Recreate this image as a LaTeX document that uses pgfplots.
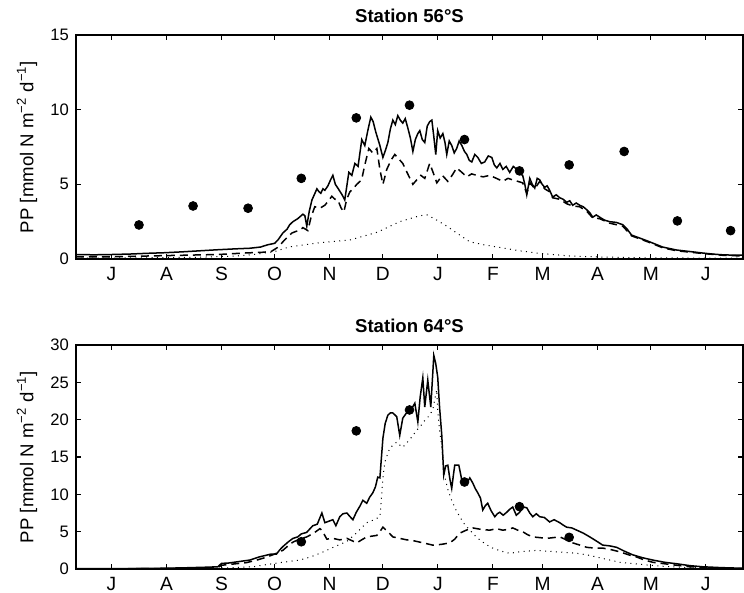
\documentclass[border=0pt]{standalone}
\usepackage{fontspec}
\setmainfont{Liberation Sans}
\usepackage{pgfplots}
\usepackage{pgfplotstable}
\pgfplotsset{compat=1.18}

% ---------- Station 56S ----------
\pgfplotstableread{
d v
0 0.30
10 0.28
20 0.30
30 0.33
40 0.38
50 0.42
60 0.48
70 0.55
80 0.62
90 0.68
98 0.72
104 0.80
108 0.95
112 1.05
114 1.30
116.6 1.74
119 2.0
120.5 2.3
122.3 2.5
125 2.7
127.9 3.0
129 2.9
130.1 2.2
131.5 3.2
133 3.95
135.8 4.7
137 4.5
138 4.4
139.2 4.7
140.3 4.6
142 4.9
143.5 5.3
144.8 5.6
146.2 5.0
147.6 4.75
150 4.3
151.5 3.95
153.8 5.8
155.5 5.6
157.2 6.4
159 6.2
161.1 8.0
162.8 7.6
164.5 8.6
166.2 9.5
167.5 9.2
169 8.5
171.3 7.6
173 6.8
174.5 7.3
175.8 7.8
177.2 8.7
178.6 9.3
180 9.0
181.4 9.6
182.8 9.3
184.2 9.1
185.6 9.4
187 8.8
188.5 8.1
189.9 7.2
191.3 8.0
192.7 8.4
193.8 8.6
195.2 8.0
196.6 7.8
198 8.9
199.4 9.2
200.6 9.3
201.7 8.2
202.8 7.0
203.9 8.6
205.3 8.1
206.8 8.4
208 7.8
209 7.0
210.4 7.9
211.8 7.6
213.2 7.1
214.6 7.4
216 7.9
217.5 7.6
219 7.2
220.3 7.0
221.7 6.6
223.1 6.5
224.8 7.0
226.5 6.8
228.5 6.4
230.4 6.5
232.4 6.9
234.4 6.8
235.8 6.3
237.2 6.1
239 6.4
240.6 6.0
242.5 6.2
244.5 5.8
246.5 6.2
248.5 6.0
250.2 5.7
251.8 5.6
253 5.0
254.1 4.3
255.8 5.4
257.2 5.0
258.6 4.75
260 5.4
261.4 5.3
262.8 5.0
264.2 4.8
265.6 4.9
267 4.6
268.7 4.15
270.7 4.3
272.7 4.1
274.6 4.0
276.6 3.8
278.3 3.9
280 3.6
282 3.75
283.9 3.6
285.9 3.5
287.9 3.3
289.6 3.1
291.3 2.8
293.3 2.95
295.2 2.8
298 2.6
300.8 2.5
304.5 2.45
308.2 2.3
310.7 2.0
313.2 1.6
317.8 1.4
322.3 1.2
326.5 1.0
330.7 0.8
334.6 0.7
338.6 0.6
346 0.5
353.2 0.4
358.9 0.33
364.5 0.28
370 0.26
376 0.25
}\solidA

\pgfplotstableread{
d v
0 0.15
20 0.15
40 0.20
60 0.25
80 0.30
95 0.40
105 0.45
110 0.50
114 0.80
117 1.2
119.5 1.5
121.7 1.74
124 1.85
126 1.9
127.9 2.1
130.7 1.9
132.5 2.8
134.6 3.5
137.5 3.4
140.3 3.6
142.3 3.9
144.2 4.2
146 4.0
147.6 3.95
149.5 3.4
151 3.15
152.6 4.0
154.4 4.5
156.2 4.7
158.3 5.0
161 5.3
162.8 6.3
165.1 7.4
167.3 7.1
169.6 7.4
171.3 6.0
173 5.0
175.2 6.0
177.5 6.6
179.7 7.0
182 6.7
184.2 6.4
187 5.7
189.9 5.0
192.1 5.3
194.4 5.6
196.6 5.4
199.4 6.4
201.3 5.8
203.4 5.1
206.5 5.6
209.6 5.2
212 5.6
214.6 6.1
217.5 5.8
220.3 5.5
223 5.7
225.9 5.6
229.5 5.5
233.2 5.6
237 5.4
240.6 5.2
243.5 5.4
246.2 5.3
249 5.2
251.8 5.1
254.1 4.4
256 5.1
258.6 4.7
261.4 5.2
264.2 4.7
267 4.5
268.7 4.1
272.7 4.0
276.6 3.7
280 3.55
283.9 3.5
287.9 3.2
291.3 2.75
295.2 2.7
300.8 2.4
308.2 2.2
313.2 1.55
322.3 1.15
330.7 0.75
338.6 0.55
353.2 0.37
364.5 0.25
376 0.20
}\dashA

\pgfplotstableread{
d v
0 0.05
40 0.08
70 0.12
90 0.20
100 0.30
112 0.50
120 0.80
135.8 1.07
154.4 1.27
170 1.8
182.5 2.5
193.8 2.9
198 2.95
203.4 2.6
209 2.2
214.6 1.74
222 1.15
230 0.95
240.6 0.74
250 0.55
259.7 0.40
278.3 0.20
296.9 0.13
320 0.08
376 0.05
}\dotA

\pgfplotstableread{
d v
35.5 2.28
66 3.55
97 3.4
127 5.4
158 9.45
188 10.3
219 8.0
250 5.9
278 6.3
309 7.2
339 2.55
369 1.9
}\obsA

% ---------- Station 64S ----------
\pgfplotstableread{
d v
0 0.05
40 0.07
60 0.15
75 0.25
80 0.30
82 0.75
86 0.80
92 1.0
98 1.2
103 1.6
110 2.0
113 2.0
115 2.6
116.6 3.0
119.5 3.6
122.3 4.1
125 4.3
127 4.7
130 4.9
133.5 5.8
136 6.0
138.6 7.5
140.3 6.2
142.5 6.4
144.8 6.6
146.5 5.8
148.7 7.0
150.5 7.4
152.7 7.5
154.5 7.0
156.1 6.6
158 7.6
160 8.4
161.7 9.2
163.9 8.8
165.5 9.6
167.3 10.2
168.8 11.0
170.1 12.3
171.3 12.2
172.2 15.0
173 17.5
174.3 19.5
175.8 20.6
177.2 20.9
178.6 20.9
180.8 20.4
182.5 17.9
184.2 20.2
186 20.8
188.2 21.3
189.5 21.6
191 22.2
192.7 19.7
194 23.0
195.5 25.6
196.6 21.7
198.3 25.3
200 21.7
201.7 28.6
202.8 27.5
203.9 25.7
205 21.5
206.2 17.9
207.3 12.6
208.4 13.8
209.6 13.9
210.8 12.0
211.8 10.8
212.7 12.5
213.5 13.9
215.8 13.9
217.5 11.9
220.3 11.5
222 12.2
223.7 11.5
225 10.8
226.5 10.2
228 9.5
229.3 7.9
230.8 8.5
232.1 8.8
234 7.8
236.1 7.0
237.5 7.4
238.9 7.6
240.8 7.2
242.8 7.6
244.5 8.0
246.2 8.3
248.2 7.2
250.1 7.6
252.1 8.3
254.1 8.2
255.8 7.5
257.5 7.0
259.5 7.4
261.4 7.0
264 6.9
267 6.3
269.5 6.6
272.7 6.2
274.5 5.9
276.6 5.6
279.5 5.5
282.3 5.2
286 4.8
289.6 4.3
293 3.8
296.9 3.2
300.8 3.1
304.8 2.9
309 2.4
313.8 1.9
319.5 1.5
325.1 1.2
331.8 0.9
338.6 0.7
346 0.45
353.2 0.3
364 0.18
376 0.10
}\solidB

\pgfplotstableread{
d v
0 0.02
60 0.05
80 0.20
82 0.50
96 0.85
102 1.2
107.6 1.6
112 2.0
116.6 2.5
120 3.2
122.3 3.6
126 4.0
130.1 4.3
134 4.8
137.5 5.4
138.6 5.2
141.4 4.0
144.8 4.1
148.7 3.9
152.7 4.1
155.5 3.8
158.3 3.5
161 3.9
163.9 4.3
166.8 4.4
169.6 4.5
171.3 5.0
173 5.6
175.8 5.0
178.6 4.3
182.5 4.1
186.5 3.9
190 3.8
193.8 3.6
197.5 3.4
201.1 3.2
206 3.3
210.7 3.5
213.5 4.0
216.3 4.8
220 5.2
223.7 5.5
228.5 5.3
233.2 5.2
237 5.4
240.6 5.2
243.5 5.3
246.2 5.5
249 5.2
251.8 5.0
254.5 4.6
257.5 4.3
261.5 4.2
265.4 4.1
269 4.2
272.7 4.3
276.5 3.9
280 3.5
284 3.2
287.9 2.9
292.5 2.8
296.9 2.8
301.5 2.6
306.5 2.3
311.5 1.9
316.1 1.6
320.5 1.2
325.1 0.9
331.8 0.7
338.6 0.5
346 0.3
353.2 0.2
364 0.1
376 0.05
}\dashB

\pgfplotstableread{
d v
0 0.01
80 0.10
90 0.20
100 0.30
107.6 0.60
116.6 0.9
126 1.2
132 1.6
137.5 2.1
145 2.9
152.7 3.7
158 4.8
163.9 6.2
168 6.6
171.3 7.0
172.2 9.5
173 12.2
174.1 14.3
175.8 15.5
176.9 16.2
178.8 16.6
180.8 17.0
182.5 16.6
184.2 16.3
186.5 16.9
189 17.6
192.1 18.6
194.4 19.2
196.6 19.9
199 20.5
201.1 21.3
202.3 22.8
203.4 24.0
203.9 21.3
205 18.5
206.2 16.3
207.9 12.3
209.8 10.5
211.8 9.2
214 8.0
216.3 7.0
219 6.0
222 5.2
224.8 4.5
227.6 3.9
231 3.3
234.9 2.8
239.5 2.4
244.5 2.1
250 2.3
255 2.4
259.7 2.5
265 2.4
271 2.3
277 2.2
282.3 2.1
288 1.9
293.5 1.6
300 1.25
306.5 0.9
315 0.7
323.4 0.5
333 0.33
344.2 0.20
360 0.10
376 0.05
}\dotB

\pgfplotstableread{
d v
127 3.65
158 18.5
188 21.3
219 11.65
250 8.35
278 4.24
}\obsB

\pgfplotsset{
  mystyle/.style={
    scale only axis, width=333.5pt, height=112pt,
    xmin=0, xmax=376,
    xtick={20,51,82,112,143,173,204,235,263,294,324,355},
    xticklabels={J,A,S,O,N,D,J,F,M,A,M,J},
    tick pos=both, tick align=inside, major tick length=2.5pt,
    axis line style={line width=1pt},
    every tick/.style={black, line width=0.6pt},
    /pgf/number format/assume math mode=true,
    x tick label style={font=\fontsize{9.6}{11}\selectfont, yshift=-0.5pt},
    y tick label style={font=\fontsize{8.3}{10}\selectfont},
    ylabel={PP [mmol N m\textsuperscript{−2} d\textsuperscript{−1}]},
    every axis y label/.style={at={(axis description cs:-0.0735,0.5)}, rotate=90, anchor=center,
      font=\fontsize{9.3}{11}\selectfont},
    every axis title shift=0pt,
    every axis title/.style={at={(0.5,1)}, anchor=south, yshift=2.5pt,
      font=\bfseries\fontsize{9.3}{11}\selectfont},
  },
  solidln/.style={black, line width=0.75pt, no markers},
  dashln/.style={black, line width=0.75pt, no markers, dash pattern=on 4pt off 2.5pt},
  dotln/.style={black, line width=0.5pt, no markers, dash pattern=on 0.5pt off 2.2pt},
  obs/.style={only marks, mark=*, mark size=2.2pt, black, mark options={fill=black}},
}

\begin{document}
\begin{tikzpicture}
\useasboundingbox (-38pt,-167pt) rectangle (334pt,129.5pt);
\begin{axis}[mystyle, at={(0,0)}, ymin=0, ymax=15, ytick={0,5,10,15},
  title={Station 56°S}]
  \addplot[dotln] table[x=d, y=v] {\dotA};
  \addplot[dashln] table[x=d, y=v] {\dashA};
  \addplot[solidln] table[x=d, y=v] {\solidA};
  \addplot[obs] table[x=d, y=v] {\obsA};
\end{axis}
\begin{axis}[mystyle, at={(0,-155pt)}, ymin=0, ymax=30, ytick={0,5,10,15,20,25,30},
  title={Station 64°S}]
  \addplot[dotln] table[x=d, y=v] {\dotB};
  \addplot[dashln] table[x=d, y=v] {\dashB};
  \addplot[solidln] table[x=d, y=v] {\solidB};
  \addplot[obs] table[x=d, y=v] {\obsB};
\end{axis}
\end{tikzpicture}
\end{document}
